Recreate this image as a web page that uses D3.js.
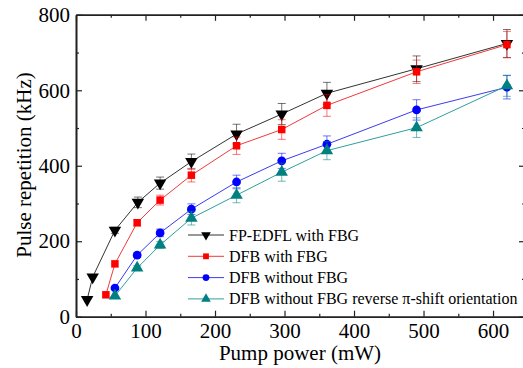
<!DOCTYPE html>
<html>
<head>
<meta charset="utf-8">
<script src="https://cdn.jsdelivr.net/npm/d3@7"></script>
<style>
  body { margin: 0; background: #fff; }
  svg { font-family: "Liberation Serif", "Times New Roman", serif; }
</style>
</head>
<body>
<div id="chart-container"></div>
<script>
// pump power (mW) and pulse repetition (kHz)
let powerBlack = [16, 24, 56, 89, 121, 166, 231, 296, 361, 490, 620];
let repBlack   = [45, 105, 229, 303, 354, 411, 484, 537, 592, 657, 724];
let errBlack   = [0, 0, 8, 14, 16, 20, 26, 28, 29, 34, 37];

let powerRed = [43, 56, 88, 121, 166, 231, 296, 361, 490, 620];
let repRed   = [58, 140, 249, 309, 375, 453, 496, 560, 649, 721];
let errRed   = [0, 0, 8, 13, 18, 23, 26, 29, 31, 35];

let powerBlue = [56, 88, 121, 166, 231, 296, 361, 490, 620];
let repBlue   = [76, 163, 222, 285, 357, 413, 457, 548, 608];
let errBlue   = [0, 6, 10, 14, 18, 20, 22, 27, 31];

let powerTeal = [56, 88, 121, 166, 231, 296, 361, 490, 620];
let repTeal   = [55, 129, 190, 261, 322, 383, 440, 501, 612];
let errTeal   = [0, 6, 9, 18, 20, 24, 24, 26, 28];

let seriesNames = [
  "FP-EDFL with FBG",
  "DFB with FBG",
  "DFB without FBG",
  "DFB without FBG reverse \u03c0-shift orientation"
];

let xTicks = [0, 100, 200, 300, 400, 500, 600];
let yTicks = [0, 200, 400, 600, 800];

let series = [
  {name: seriesNames[0], x: powerBlack, y: repBlack, err: errBlack, color: "#000000", line: "#333333", symbol: "down"},
  {name: seriesNames[1], x: powerRed, y: repRed, err: errRed, color: "#ff0000", line: "#f03a3a", symbol: "square"},
  {name: seriesNames[2], x: powerBlue, y: repBlue, err: errBlue, color: "#0000ff", line: "#3b3bf0", symbol: "circle"},
  {name: seriesNames[3], x: powerTeal, y: repTeal, err: errTeal, color: "#008080", line: "#2f9f9f", symbol: "up"}
];

let svgWidth = 523;
let svgHeight = 368;

let svg = d3.select('#chart-container')
  .append('svg')
  .attr('width', svgWidth)
  .attr('height', svgHeight);

let xScale = d3.scaleLinear().domain([0, 646]).range([76, 525]);
let yScale = d3.scaleLinear().domain([0, 800]).range([316.7, 14.8]);

let symbolPath = function(type, size) {
  if (type == "down") return d3.symbol().type(d3.symbolTriangle).size(size * 0.9)();
  if (type == "up") return d3.symbol().type(d3.symbolTriangle).size(size * 0.9)();
  if (type == "square") return d3.symbol().type(d3.symbolSquare).size(size * 0.75)();
  return d3.symbol().type(d3.symbolCircle).size(size * 0.8)();
};

//Draw series: lines, error bars, markers
let line = d3.line().x(d => xScale(d[0])).y(d => yScale(d[1]));

series.forEach(function(s) {
  let pts = s.x.map((v, i) => [v, s.y[i], s.err[i]]);

  svg.append("path")
    .datum(pts)
    .attr("d", line)
    .attr("fill", "none")
    .attr("stroke", s.line)
    .attr("stroke-width", 1);

  let eb = svg.append("g")
    .attr("stroke", s.color)
    .attr("stroke-opacity", 0.55)
    .attr("stroke-width", 1);
  pts.filter(d => d[2] > 0).forEach(function(d) {
    let cx = xScale(d[0]);
    let top = yScale(d[1] + d[2]);
    let bot = yScale(d[1] - d[2]);
    eb.append("line").attr("x1", cx).attr("x2", cx).attr("y1", top).attr("y2", bot);
    eb.append("line").attr("x1", cx - 4).attr("x2", cx + 4).attr("y1", top).attr("y2", top);
    eb.append("line").attr("x1", cx - 4).attr("x2", cx + 4).attr("y1", bot).attr("y2", bot);
  });

  svg.append("g").selectAll("path")
    .data(pts)
    .enter()
    .append("path")
    .attr("d", symbolPath(s.symbol, 75))
    .attr("transform", d => "translate(" + xScale(d[0]) + "," + yScale(d[1]) + ")" + (s.symbol == "down" ? " rotate(180)" : ""))
    .attr("fill", s.color);
});

//Axes, ticks pointing inward on all four sides
let axisColor = "#222";
let xMinor = d3.range(50, 646, 100);
let yMinor = [100, 300, 500, 700];

let bottom = svg.append("g")
  .attr("transform", "translate(0," + yScale(0) + ")")
  .call(d3.axisBottom(xScale).tickValues(xTicks).tickSizeInner(-6).tickSizeOuter(0).tickPadding(6));
svg.append("g")
  .attr("transform", "translate(0," + yScale(0) + ")")
  .call(d3.axisBottom(xScale).tickValues(xMinor).tickSizeInner(-3).tickSizeOuter(0).tickFormat(""));

svg.append("g")
  .attr("transform", "translate(0," + yScale(800) + ")")
  .call(d3.axisTop(xScale).tickValues(xTicks).tickSizeInner(-6).tickSizeOuter(0).tickFormat(""));
svg.append("g")
  .attr("transform", "translate(0," + yScale(800) + ")")
  .call(d3.axisTop(xScale).tickValues(xMinor).tickSizeInner(-3).tickSizeOuter(0).tickFormat(""));

svg.append("g")
  .attr("transform", "translate(" + xScale(0) + ",0)")
  .call(d3.axisLeft(yScale).tickValues(yTicks).tickSizeInner(-6).tickSizeOuter(0).tickPadding(6));
svg.append("g")
  .attr("transform", "translate(" + xScale(0) + ",0)")
  .call(d3.axisLeft(yScale).tickValues(yMinor).tickSizeInner(-3).tickSizeOuter(0).tickFormat(""));

svg.append("g")
  .attr("transform", "translate(" + xScale(646) + ",0)")
  .call(d3.axisRight(yScale).tickValues(yTicks).tickSizeInner(-6).tickSizeOuter(0).tickFormat(""));
svg.append("g")
  .attr("transform", "translate(" + xScale(646) + ",0)")
  .call(d3.axisRight(yScale).tickValues(yMinor).tickSizeInner(-3).tickSizeOuter(0).tickFormat(""));

svg.selectAll(".domain").attr("stroke", axisColor).attr("stroke-width", 1.6);
svg.selectAll(".tick line").attr("stroke", axisColor).attr("stroke-width", 1.2);
svg.selectAll(".tick text")
  .attr("fill", "#000")
  .style("font-family", "'Liberation Serif', 'Times New Roman', serif")
  .style("font-size", "21px");

//Axis titles
svg.append("text")
  .attr("x", 300)
  .attr("y", 360)
  .attr("text-anchor", "middle")
  .style("font-size", "21px")
  .text("Pump power (mW)");

svg.append("text")
  .attr("transform", "translate(31,165) rotate(-90)")
  .attr("text-anchor", "middle")
  .style("font-size", "21px")
  .text("Pulse repetition (kHz)");

//Legend
let legend = svg.append("g").attr("transform", "translate(188,235)");
series.forEach(function(s, i) {
  let row = legend.append("g").attr("transform", "translate(0," + (i * 21.3) + ")");
  row.append("line")
    .attr("x1", 0).attr("x2", 36).attr("y1", 0).attr("y2", 0)
    .attr("stroke", s.line).attr("stroke-width", 1);
  row.append("path")
    .attr("d", symbolPath(s.symbol, 45))
    .attr("transform", "translate(18,0)" + (s.symbol == "down" ? " rotate(180)" : ""))
    .attr("fill", s.color);
  row.append("text")
    .attr("x", 41)
    .attr("y", 5.5)
    .style("font-size", "16px")
    .text(s.name);
});
</script>
</body>
</html>
